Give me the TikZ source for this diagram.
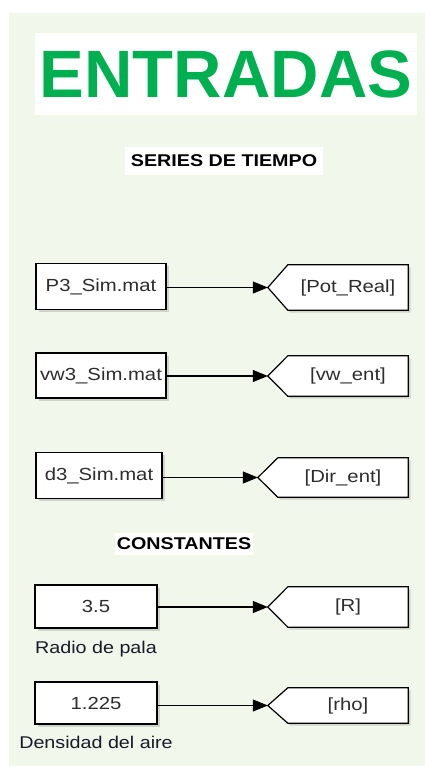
\documentclass[tikz,border=0pt]{standalone}
\usepackage{fontspec}
\setmainfont{Liberation Sans}
\newfontfamily\slkfont{Liberation Sans}[FakeStretch=1.16]
\usepackage{xcolor}
\definecolor{slkGreen}{RGB}{  0, 176,  80}
\definecolor{slkPaper}{RGB}{242, 247, 235}
\definecolor{slkInk}  {RGB}{ 26,  26,  40}
\definecolor{slkGrey} {RGB}{ 45,  45,  45}
\usetikzlibrary{
  arrows.meta,
  positioning,
  calc,
  shadows,
  backgrounds,
}

\begin{document}
\begin{tikzpicture}[
  x=1pt, y=-1pt,
  src/.style={draw=black, line width=1.2pt, fill=white, inner sep=0pt,
              minimum width=130pt, minimum height=46pt,
              font=\slkfont\fontsize{17.5}{17.5}\selectfont, text=slkGrey,
              drop shadow={shadow xshift=2.5pt, shadow yshift=-2.5pt,
                           opacity=0.3}},
  tag/.style={inner sep=0pt, minimum width=120pt, minimum height=40pt,
              font=\slkfont\fontsize{17.5}{17.5}\selectfont, text=slkGrey},
  tagline/.style={draw=black, line width=1.2pt, fill=white,
                  drop shadow={shadow xshift=2.5pt, shadow yshift=-2.5pt,
                               opacity=0.3}},
  wire/.style={-{Triangle[length=15pt, width=12pt]}, line width=1.1pt},
  head/.style={fill=white, inner sep=0pt, text=black,
               font=\slkfont\bfseries\fontsize{17}{17}\selectfont},
  note/.style={inner sep=0pt, text=slkInk,
               font=\slkfont\fontsize{17}{17}\selectfont},
]
  \useasboundingbox (0,0) rectangle (425,766);
  \begin{scope}[on background layer]
    \fill[slkPaper] (9,13) rectangle (425,766);
  \end{scope}

  % Headings
  \node[fill=white, inner sep=0pt, minimum width=382pt, minimum height=82pt,
        font=\bfseries\fontsize{67}{67}\selectfont, text=slkGreen]
        (title)  at (226,74)  {ENTRADAS};
  \node[head, minimum width=198pt, minimum height=28pt]
        (series) at (224,161) {SERIES DE TIEMPO};
  \node[head, minimum width=138pt, minimum height=22pt]
        (const)  at (184,544) {CONSTANTES};

  % From-file blocks
  \node[src]                        (bP) at (101,286.5) {P3\_Sim.mat};
  \node[src, minimum height=45pt]   (bV) at (101,375.5) {vw3\_Sim.mat};
  \node[src, minimum width=126pt]   (bD) at ( 99,475.5) {d3\_Sim.mat};

  % Constant blocks and their names
  \node[src, minimum width=122pt, minimum height=43pt] (bR) at (96,606.5) {3.5};
  \node[src, minimum width=122pt, minimum height=42pt] (bH) at (96,703)   {1.225};
  \node[note, below=12pt of bR] (nR) {Radio de pala};
  \node[note, below=11pt of bH] (nH) {Densidad del aire};

  % Goto tags
  \node[tag, minimum height=45pt]                     (tP) at (348,287.5) {[Pot\_Real]};
  \node[tag]                                          (tV) at (348,376)   {[vw\_ent]};
  \node[tag, minimum width=130pt, minimum height=39pt] (tD) at (343,477.5) {[Dir\_ent]};
  \node[tag]                                          (tR) at (348,607)   {[R]};
  \node[tag, minimum height=35pt]                     (tH) at (348,705.5) {[rho]};

  % tag outlines sit behind the tag text
  \begin{scope}[on background layer]
    \foreach \t in {P,V,D,R,H} {
      \coordinate (p\t) at ($(t\t.west)+(-20pt,0pt)$);
      \draw[tagline] (p\t) -- (t\t.north west) -- (t\t.north east)
                     -- (t\t.south east) -- (t\t.south west) -- cycle;
    }
  \end{scope}

  % Signals
  \foreach \t in {P,V,D,R,H}
    \draw[wire] (b\t.east |- p\t) -- (p\t);
\end{tikzpicture}
\end{document}
